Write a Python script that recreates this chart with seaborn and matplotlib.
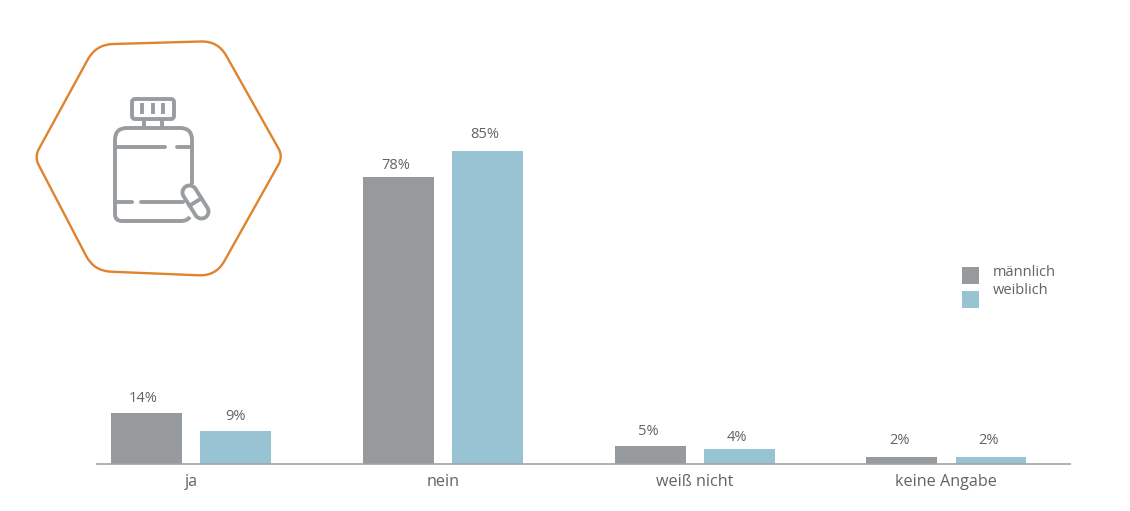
import numpy as np
import pandas as pd
import matplotlib
matplotlib.use('Agg')
import matplotlib.pyplot as plt
import seaborn as sns
from matplotlib.path import Path
from matplotlib.patches import PathPatch, Rectangle, FancyBboxPatch

categories = ['ja', 'nein', 'weiß nicht', 'keine Angabe']
maennlich = [14, 78, 5, 2]
weiblich = [9, 85, 4, 2]
series_names = ['männlich', 'weiblich']

GRAY = '#969A9D'
BLUE = '#98C3D2'
ORANGE = '#E0832F'
ICON = '#999DA0'
TEXT = '#606467'

sns.set_theme(style='white')
plt.rcParams['font.family'] = ['Open Sans', 'DejaVu Sans']

df = pd.DataFrame({
    'kat': categories * 2,
    'wert': maennlich + weiblich,
    'gruppe': [series_names[0]] * 4 + [series_names[1]] * 4,
})

fig = plt.figure(figsize=(11.3, 5.11), dpi=100)
ax = fig.add_axes([97 / 1130, 47 / 511, 973 / 1130, 464 / 511])
sns.barplot(data=df, x='kat', y='wert', hue='gruppe', palette=[GRAY, BLUE],
            width=0.708, gap=0.205, saturation=1, linewidth=0, legend=False, ax=ax)
ax.set_xlim(-0.374, 3.491)
ax.set_ylim(0, 126.2)
ax.set_xlabel('')
ax.set_ylabel('')
ax.set_yticks([])
ax.tick_params(axis='x', length=0, pad=7, labelsize=11.6, labelcolor=TEXT)
sns.despine(ax=ax, left=True)
ax.spines['bottom'].set_color('#A0A4A6')
ax.spines['bottom'].set_linewidth(1.2)
ax.patch.set_alpha(0)
# label offsets in points, the source places them by hand
nudges = [[(-2.5, 4.5), (-1.5, 3), (-1.5, 5), (-1.5, 6)],
          [(0, 5), (-2, 7), (-1.5, 3), (-1.5, 6)]]
for c, nudge in zip(ax.containers, nudges):
    labels = ax.bar_label(c, fmt='%d%%', padding=5, fontsize=10.5, color=TEXT)
    for t, n in zip(labels, nudge):
        t.xyann = n

# overlay in pixel coordinates for the badge and the legend
ov = fig.add_axes([0, 0, 1, 1])
ov.set_xlim(0, 1130)
ov.set_ylim(511, 0)
ov.axis('off')
ov.patch.set_alpha(0)


def rounded_poly(pts, radii):
    pts = np.array(pts, float)
    n = len(pts)
    verts, codes = [], []
    for i in range(n):
        p, prev, nxt = pts[i], pts[i - 1], pts[(i + 1) % n]
        r = radii[i]
        a = p + (prev - p) / np.linalg.norm(prev - p) * r
        b = p + (nxt - p) / np.linalg.norm(nxt - p) * r
        verts += [a, p, b]
        codes += [Path.MOVETO if i == 0 else Path.LINETO, Path.CURVE3, Path.CURVE3]
    verts.append(verts[0])
    codes.append(Path.CLOSEPOLY)
    return Path(verts, codes)


hexagon = [(96, 44.5), (218, 41), (283, 156.5), (216, 276), (94, 271), (34.5, 157)]
ov.add_patch(PathPatch(rounded_poly(hexagon, [17, 17, 9, 17, 17, 9]), fc='none', ec=ORANGE, lw=1.7))

lw = 2.8
style = dict(color=ICON, lw=lw, solid_capstyle='round')
# cap
ov.add_patch(FancyBboxPatch((132, 99), 42, 20, boxstyle='round,pad=0,rounding_size=3',
                            fc='none', ec=ICON, lw=lw))
for x in (142, 153, 163):
    ov.plot([x, x], [103, 114], color=ICON, lw=lw, solid_capstyle='butt')
# neck
ov.plot([144, 144], [120, 127], [162, 162], [120, 127], color=ICON, lw=lw)
# body
body = [(192, 184), (192, 140), (192, 128), (180, 128), (127, 128), (115, 128), (115, 140),
        (115, 214), (115, 221), (122, 221), (181, 221), (187, 221), (190, 217)]
bc = [Path.MOVETO, Path.LINETO, Path.CURVE3, Path.CURVE3, Path.LINETO, Path.CURVE3, Path.CURVE3,
      Path.LINETO, Path.CURVE3, Path.CURVE3, Path.LINETO, Path.CURVE3, Path.CURVE3]
ov.add_patch(PathPatch(Path(body, bc), fc='none', ec=ICON, lw=lw))
ov.plot([115, 165], [147, 147], **style)
ov.plot([177, 192], [147, 147], **style)
ov.plot([115, 132], [202, 202], **style)
ov.plot([141, 183], [202, 202], **style)
# pill
p0, p1 = np.array([189.5, 192.5]), np.array([201.5, 211.5])
d = (p1 - p0) / np.linalg.norm(p1 - p0)
base = np.arctan2(d[1], d[0])
t0 = base + np.linspace(np.pi / 2, 3 * np.pi / 2, 30)
t1 = base + np.linspace(-np.pi / 2, np.pi / 2, 30)
rad = 7
xs = np.r_[p0[0] + rad * np.cos(t0), p1[0] + rad * np.cos(t1)]
ys = np.r_[p0[1] + rad * np.sin(t0), p1[1] + rad * np.sin(t1)]
ov.fill(xs, ys, fc='white', ec=ICON, lw=lw, zorder=3)
m = (p0 + p1) / 2
perp = np.array([-d[1], d[0]]) * rad
ov.plot([m[0] - perp[0], m[0] + perp[0]], [m[1] - perp[1], m[1] + perp[1]], zorder=4, **style)

# legend
for y, col, name, ty in zip((267, 291), (GRAY, BLUE), series_names, (272, 290)):
    ov.add_patch(Rectangle((962, y), 17, 17, fc=col, ec='none'))
    ov.text(993, ty, name, fontsize=10.5, color=TEXT, va='center', ha='left')

fig.savefig('out.png', dpi=100, facecolor='white')
